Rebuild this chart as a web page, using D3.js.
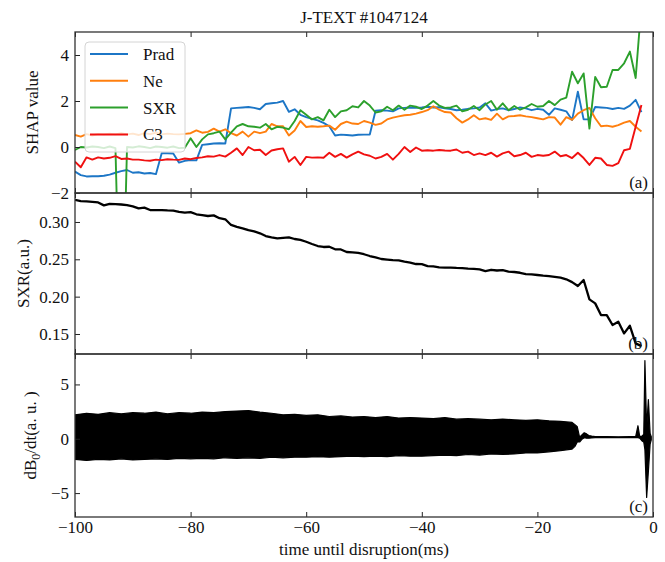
<!DOCTYPE html>
<html lang="en">
<head>
  <meta charset="UTF-8" />
  <title>J-TEXT #1047124</title>
  <script src="https://d3js.org/d3.v7.min.js"></script>
  <style>
    html, body { margin: 0; padding: 0; background: #fff; }
    svg { display: block; }
    text { font-family: "Liberation Serif", "DejaVu Serif", serif; fill: #111; }
    .tick line { stroke: #222; stroke-width: 1; }
    .frame { fill: none; stroke: #333; stroke-width: 1.3; }
  </style>
</head>
<body>
  <svg width="665" height="562"></svg>
  <script>
    // sample times (ms before disruption) for panels (a) and (b)
    const time = [-100, -99, -98, -97, -96, -95, -94, -93, -92, -91, -90, -89, -88, -87, -86, -85, -84, -83, -82, -81,
      -80, -79, -78, -77, -76, -75, -74, -73, -72, -71, -70, -69, -68, -67, -66, -65, -64, -63, -62, -61,
      -60, -59, -58, -57, -56, -55, -54, -53, -52, -51, -50, -49, -48, -47, -46, -45, -44, -43, -42, -41,
      -40, -39, -38, -37, -36, -35, -34, -33, -32, -31, -30, -29, -28, -27, -26, -25, -24, -23, -22, -21,
      -20, -19, -18, -17, -16, -15, -14, -13, -12, -11, -10, -9, -8, -7, -6, -5, -4, -3, -2];

    const seriesNames = ["Prad", "Ne", "SXR", "C3"];
    const seriesColors = ["#1c76c6", "#ff7f0e", "#2ca02c", "#f01010"];

    const prad = [-1.07, -1.22, -1.28, -1.27, -1.27, -1.25, -1.2, -1.12, -1.05, -1.0, -1.12, -1.1, -1.15, -1.13, -1.18, -0.27, -0.27, -0.28, -0.68, -0.6,
      -0.57, -0.58, 0.09, 0.12, 0.15, 0.16, 0.15, 1.68, 1.7, 1.72, 1.74, 1.7, 1.64, 1.87, 1.9, 1.93, 2.0, 1.53, 1.64, 1.4,
      1.3, 1.22, 1.16, 1.05, 0.9, 0.5, 0.54, 0.52, 0.5, 0.53, 0.54, 0.54, 1.58, 1.6, 1.58, 1.55, 1.68, 1.7, 1.72, 1.7,
      1.72, 1.75, 1.72, 1.73, 1.68, 1.65, 1.6, 1.62, 1.66, 1.68, 1.72, 1.9, 1.58, 1.65, 1.68, 1.6, 1.65, 1.72, 1.68, 1.6,
      1.66, 1.62, 1.4, 1.68, 1.62, 1.55, 1.17, 2.4, 1.2, 1.2, 1.74, 1.72, 1.7, 1.65, 1.7, 1.66, 1.8, 2.05, 1.52];

    const ne = [0.52, 0.45, 0.56, 0.5, 0.57, 0.55, 0.58, 0.55, 0.6, 0.55, 0.58, 0.52, 0.6, 0.56, 0.62, 0.55, 0.58, 0.56, 0.55, 0.57,
      0.6, 0.72, 0.62, 0.66, 0.8, 0.67, 0.77, 0.6, 0.5, 0.67, 0.45, 0.67, 0.6, 0.67, 1.0, 0.9, 0.9, 0.5, 0.72, 1.13,
      0.87, 0.9, 0.88, 0.9, 0.93, 0.75, 1.0, 1.1, 1.02, 1.0, 1.13, 1.06, 0.96, 1.02, 1.2, 1.28, 1.33, 1.38, 1.4, 1.45,
      1.52, 1.6, 1.77, 1.62, 1.52, 1.5, 1.25, 1.06, 1.2, 1.38, 1.2, 1.25, 1.18, 1.45, 1.2, 1.33, 1.35, 1.38, 1.33, 1.3,
      1.25, 1.2, 1.3, 1.28, 0.97, 1.3, 1.18, 1.45, 1.6, 1.7, 1.25, 0.9, 0.93, 0.88, 0.95, 1.06, 1.13, 0.88, 0.67];

    const sxrShap = [-0.13, 0.0, -0.02, 0.02, 0.0, -0.05, 0.02, -0.05, -10, 0.0, -0.02, 0.03, 0.0, -0.05, 0.02, 0.0, -0.03, 0.02, -0.05, -0.03,
      0.38, 0.0, 0.33, 0.55, 0.6, 0.67, 0.33, 0.62, 0.9, 1.0, 0.9, 0.88, 0.84, 1.0, 0.77, 0.88, 0.84, 0.77, 1.13, 1.6,
      1.4, 1.2, 1.3, 1.16, 1.62, 1.3, 1.55, 1.6, 1.77, 1.72, 2.0, 1.8, 1.5, 1.55, 1.75, 1.6, 1.8, 1.62, 1.8, 1.75,
      1.65, 1.8, 2.0, 1.8, 1.7, 1.72, 1.8, 1.55, 1.62, 1.78, 1.6, 1.85, 2.0, 1.62, 1.9, 1.6, 1.78, 1.62, 1.72, 1.87,
      1.75, 1.78, 2.0, 1.82, 2.06, 2.15, 3.27, 2.77, 3.2, 0.8, 3.05, 2.6, 2.62, 3.35, 3.35, 3.64, 4.15, 3.0, 6.2];

    const c3 = [-0.64, -0.88, -0.45, -0.55, -0.45, -0.5, -0.47, -0.4, -0.52, -0.5, -0.55, -0.55, -0.58, -0.6, -0.55, -0.57, -0.53, -0.55, -0.56, -0.5,
      -0.53, -0.48, -0.45, -0.4, -0.42, -0.35, -0.42, -0.25, -0.06, -0.35, 0.0, -0.14, -0.12, -0.35, -0.15, -0.1, -0.06, -0.64, -0.43, -0.78,
      -0.43, -0.46, -0.45, -0.47, -0.25, -0.43, -0.3, -0.46, -0.32, -0.2, -0.32, -0.38, -0.5, -0.43, -0.3, -0.55, -0.3, 0.0, -0.22, -0.02,
      -0.16, -0.14, -0.16, -0.13, -0.15, -0.16, -0.11, -0.25, -0.2, -0.35, -0.28, -0.35, -0.25, -0.42, -0.28, -0.2, -0.4, -0.35, -0.25, -0.43,
      -0.35, -0.38, -0.35, -0.2, -0.4, -0.35, -0.48, -0.25, -0.48, -0.78, -0.47, -0.5, -0.78, -0.82, -0.7, -0.14, -0.08, 0.88, 1.83];

    // soft x-ray signal, panel (b)
    const sxr = [0.3295, 0.328, 0.3275, 0.327, 0.3262, 0.3222, 0.3243, 0.324, 0.3234, 0.3225, 0.321, 0.3183, 0.3192, 0.316, 0.3158, 0.316, 0.3155, 0.3152, 0.3135, 0.3125,
      0.3132, 0.3103, 0.3092, 0.308, 0.3088, 0.305, 0.3036, 0.296, 0.2935, 0.2915, 0.289, 0.2875, 0.2848, 0.2812, 0.2795, 0.2781, 0.2788, 0.2795, 0.2772, 0.2759,
      0.2735, 0.2705, 0.2678, 0.2665, 0.2668, 0.2634, 0.2632, 0.2598, 0.2592, 0.2585, 0.2568, 0.2544, 0.2525, 0.2504, 0.2497, 0.249, 0.2485, 0.2468, 0.2455, 0.2437,
      0.2435, 0.241, 0.2405, 0.2392, 0.2388, 0.239, 0.2385, 0.2383, 0.2375, 0.2372, 0.2365, 0.2343, 0.236, 0.235, 0.2355, 0.2334, 0.233, 0.232, 0.2303, 0.2298,
      0.229, 0.2282, 0.2276, 0.2265, 0.2255, 0.2232, 0.2195, 0.2142, 0.2223, 0.1963, 0.191, 0.1753, 0.1753, 0.162, 0.1664, 0.1508, 0.161, 0.1374, 0.1337];

    // Mirnov signal envelope, panel (c)
    const magTime = [-100, -98, -96, -94, -92, -90, -88, -86, -84, -82, -80, -78, -76, -74, -72, -70, -68, -66, -64, -62,
      -60, -58, -56, -54, -52, -50, -48, -46, -44, -42, -40, -38, -36, -34, -32, -30, -28, -26, -24, -22,
      -20, -18, -16, -14, -13.5, -13.1, -12.7, -12.3, -11.9, -11.5, -11.1, -10.6, -10, -8, -6, -4, -3, -2.6, -2.3, -1.9,
      -1.6, -1.4, -1.1, -0.8, -0.5, -0.3];
    const magUpper = [2.2, 2.35, 2.25, 2.4, 2.3, 2.4, 2.35, 2.45, 2.3, 2.4, 2.35, 2.45, 2.4, 2.5, 2.55, 2.6, 2.45, 2.35, 2.2, 2.25,
      2.15, 2.2, 2.05, 2.1, 2.0, 2.05, 1.95, 2.05, 1.9, 1.95, 1.9, 1.85, 1.95, 1.8, 1.85, 1.8, 1.75, 1.8, 1.75, 1.7,
      1.75, 1.65, 1.6, 1.5, 1.3, 1.1, 0.15, 0.35, 0.55, 0.45, 0.3, 0.25, 0.2, 0.2, 0.18, 0.2, 0.2, 1.2, 0.2, 0.25,
      0.4, 7.2, 1.0, 3.6, 0.5, 0.2];
    const magLower = [-1.9, -2.0, -1.9, -1.95, -1.85, -1.95, -1.9, -1.85, -1.9, -1.8, -1.85, -1.8, -1.85, -1.75, -1.8, -1.75, -1.8, -1.7, -1.75, -1.7,
      -1.7, -1.65, -1.7, -1.65, -1.6, -1.65, -1.6, -1.65, -1.55, -1.6, -1.6, -1.55, -1.5, -1.55, -1.45, -1.5, -1.4, -1.45, -1.4, -1.3,
      -1.3, -1.2, -1.1, -0.95, -0.7, -0.3, -0.3, -0.05, 0.1, 0.05, 0.05, 0.08, 0.1, 0.1, 0.1, 0.1, 0.1, 0.1, 0.05, -0.2,
      -0.3, -1.0, -5.4, -3.0, -0.5, -0.1];

    const xTicks = [-100, -80, -60, -40, -20, 0];

    const fontFamily = '"Liberation Serif", "DejaVu Serif", serif';
    const fontSize = 17;

    const svg = d3.select("svg");
    const left = 75, right = 653;
    const panels = [
      { key: "a", top: 32, bottom: 193 },
      { key: "b", top: 193, bottom: 354 },
      { key: "c", top: 354, bottom: 517 }
    ];

    const x = d3.scaleLinear().domain([-100, 0]).range([left, right]);
    const yA = d3.scaleLinear().domain([-2, 5]).range([panels[0].bottom, panels[0].top]);
    const yB = d3.scaleLinear().domain([0.1232, 0.3388]).range([panels[1].bottom, panels[1].top]);
    const yC = d3.scaleLinear().domain([-7.2, 7.8]).range([panels[2].bottom, panels[2].top]);

    const defs = svg.append("defs");
    panels.forEach(p => {
      defs.append("clipPath").attr("id", "clip-" + p.key)
        .append("rect")
        .attr("x", left).attr("y", p.top)
        .attr("width", right - left).attr("height", p.bottom - p.top);
    });

    // panel (a): SHAP values
    const shap = [prad, ne, sxrShap, c3];
    const lineA = d3.line().x((d, i) => x(time[i])).y(d => yA(d));
    const gA = svg.append("g").attr("clip-path", "url(#clip-a)");
    shap.forEach((s, k) => {
      gA.append("path")
        .datum(s)
        .attr("d", lineA)
        .attr("fill", "none")
        .attr("stroke", seriesColors[k])
        .attr("stroke-width", 1.9)
        .attr("stroke-linejoin", "round");
    });

    // panel (b): SXR
    const lineB = d3.line().x((d, i) => x(time[i])).y(d => yB(d));
    svg.append("g").attr("clip-path", "url(#clip-b)")
      .append("path")
      .datum(sxr)
      .attr("d", lineB)
      .attr("fill", "none")
      .attr("stroke", "#000")
      .attr("stroke-width", 2.3)
      .attr("stroke-linejoin", "round");

    // panel (c): dB/dt envelope
    const areaC = d3.area()
      .x((d, i) => x(magTime[i]))
      .y0((d, i) => yC(magLower[i]))
      .y1(d => yC(d));
    svg.append("g").attr("clip-path", "url(#clip-c)")
      .append("path")
      .datum(magUpper)
      .attr("d", areaC)
      .attr("fill", "#000")
      .attr("stroke", "#000")
      .attr("stroke-width", 1.2)
      .attr("stroke-linejoin", "round");

    // axes: inward ticks on left, top and bottom of each panel
    const yScales = [yA, yB, yC];
    const yTicks = [[-2, 0, 2, 4], [0.15, 0.20, 0.25, 0.30], [-5, 0, 5]];
    const yFormats = [d3.format("d"), d3.format(".2f"), d3.format("d")];

    function styleAxis(g) {
      g.attr("font-family", fontFamily).attr("font-size", fontSize);
      g.selectAll(".tick text").attr("fill", "#111");
      g.select(".domain").remove();
    }

    panels.forEach((p, k) => {
      svg.append("g")
        .attr("transform", `translate(${left},0)`)
        .call(d3.axisLeft(yScales[k]).tickValues(yTicks[k]).tickFormat(yFormats[k])
          .tickSizeInner(-5).tickSizeOuter(0).tickPadding(6))
        .call(styleAxis);

      svg.append("g")
        .attr("transform", `translate(0,${p.top})`)
        .call(d3.axisTop(x).tickValues(xTicks).tickFormat("").tickSizeInner(-5).tickSizeOuter(0))
        .call(styleAxis);

      svg.append("g")
        .attr("transform", `translate(0,${p.bottom})`)
        .call(d3.axisBottom(x).tickValues(xTicks)
          .tickFormat(k === 2 ? d3.format("d") : "")
          .tickSizeInner(-5).tickSizeOuter(0).tickPadding(4))
        .call(styleAxis);

      svg.append("rect").attr("class", "frame")
        .attr("x", left).attr("y", p.top)
        .attr("width", right - left).attr("height", p.bottom - p.top);
    });

    // legend
    const legend = svg.append("g");
    legend.append("rect")
      .attr("x", 85).attr("y", 42).attr("width", 100).attr("height", 110)
      .attr("rx", 4)
      .attr("fill", "#fff").attr("fill-opacity", 0.8)
      .attr("stroke", "#d4d4d4").attr("stroke-width", 1);
    seriesNames.forEach((name, k) => {
      const yy = 54 + k * 26.8;
      legend.append("line")
        .attr("x1", 90).attr("x2", 128).attr("y1", yy).attr("y2", yy)
        .attr("stroke", seriesColors[k]).attr("stroke-width", 2);
      legend.append("text")
        .attr("x", 143).attr("y", yy + 6)
        .attr("font-size", fontSize)
        .text(name);
    });

    // titles and labels
    svg.append("text")
      .attr("x", (left + right) / 2).attr("y", 23)
      .attr("text-anchor", "middle").attr("font-size", fontSize)
      .text("J-TEXT #1047124");

    svg.append("text")
      .attr("x", (left + right) / 2).attr("y", 555)
      .attr("text-anchor", "middle").attr("font-size", fontSize)
      .text("time until disruption(ms)");

    svg.append("text")
      .attr("transform", `translate(38,${(panels[0].top + panels[0].bottom) / 2}) rotate(-90)`)
      .attr("text-anchor", "middle").attr("font-size", fontSize)
      .text("SHAP value");

    svg.append("text")
      .attr("transform", `translate(29,${(panels[1].top + panels[1].bottom) / 2}) rotate(-90)`)
      .attr("text-anchor", "middle").attr("font-size", fontSize)
      .text("SXR(a.u.)");

    const dbLabel = svg.append("text")
      .attr("transform", `translate(36,${(panels[2].top + panels[2].bottom) / 2}) rotate(-90)`)
      .attr("text-anchor", "middle").attr("font-size", fontSize);
    dbLabel.append("tspan").text("dB");
    dbLabel.append("tspan").attr("font-size", 12).attr("dy", 4).text("0");
    dbLabel.append("tspan").attr("dy", -4).text("/dt(a. u. )");

    const tags = ["(a)", "(b)", "(c)"];
    panels.forEach((p, k) => {
      svg.append("text")
        .attr("x", 648).attr("y", p.bottom - 5)
        .attr("text-anchor", "end").attr("font-size", fontSize)
        .text(tags[k]);
    });
  </script>
</body>
</html>
